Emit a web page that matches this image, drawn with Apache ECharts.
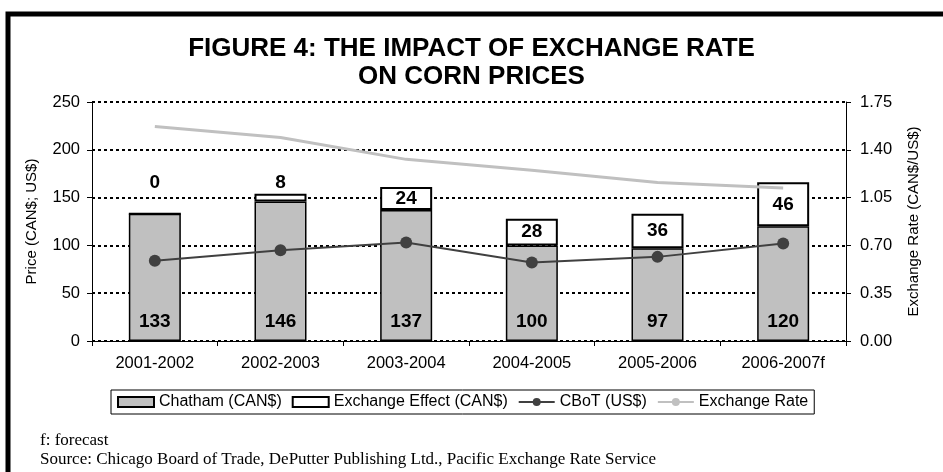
<!DOCTYPE html>
<html><head><meta charset="utf-8">
<script src="https://cdn.jsdelivr.net/npm/echarts@6/dist/echarts.min.js"></script>
<style>html,body{margin:0;padding:0;background:#fff}#c{width:943px;height:472px}</style>
</head><body><div id="c"></div>
<script>
const categories = ['2001-2002','2002-2003','2003-2004','2004-2005','2005-2006','2006-2007f'];
const chatham = [133,146,137,100,97,120];
const exchangeEffect = [0,8,24,28,36,46];
const cbot = [84,95,103,82,88,102];
const exchangeRate = [1.57,1.49,1.33,1.25,1.16,1.12];
const leftTicks = [0,50,100,150,200,250];
const rightTicks = [0,0.35,0.70,1.05,1.40,1.75];

const FONT = 'Liberation Sans, Arial, sans-serif';
const chart = echarts.init(document.getElementById('c'));
const effData = exchangeEffect.map(v => {
  const small = v < 15;
  return {
    value: v,
    label: small ? {position: 'top', distance: v === 0 ? 21 : 2} : {position: 'inside'}
  };
});
chart.setOption({
  animation: false,
  textStyle: {fontFamily: FONT},
  title: {
    text: 'FIGURE 4: THE IMPACT OF EXCHANGE RATE\nON CORN PRICES',
    left: 'center', top: 30,
    textStyle: {fontSize: 26, fontWeight: 'bold', color: '#000', lineHeight: 28, fontFamily: FONT}
  },
  graphic: [
    {type: 'rect', shape: {x: 8, y: 14, width: 1200, height: 1200}, style: {fill: 'none', stroke: '#000', lineWidth: 5}},
    {type: 'text', left: 40, top: 432, style: {text: 'f: forecast', font: '17px "Liberation Serif", serif', fill: '#000'}},
    {type: 'text', left: 40, top: 451, style: {text: 'Source: Chicago Board of Trade, DePutter Publishing Ltd., Pacific Exchange Rate Service', font: '17px "Liberation Serif", serif', fill: '#000'}}
  ],
  legend: {
    top: 390, left: 111,
    borderColor: '#000', borderWidth: 1, padding: [4, 6, 4, 6],
    itemGap: 10, itemWidth: 36, itemHeight: 10,
    textStyle: {fontSize: 16, color: '#000', fontFamily: FONT},
    data: [
      {name: 'Chatham (CAN$)', icon: 'rect'},
      {name: 'Exchange Effect (CAN$)', icon: 'rect'},
      {name: 'CBoT (US$)'},
      {name: 'Exchange Rate'}
    ]
  },
  grid: {left: 92, right: 97, top: 102, bottom: 131},
  xAxis: {
    type: 'category', data: categories,
    axisLine: {lineStyle: {color: '#000', width: 1}},
    axisTick: {show: true, lineStyle: {color: '#000'}, length: 5},
    axisLabel: {color: '#000', fontSize: 16.5, margin: 14, fontFamily: FONT}
  },
  yAxis: [
    {
      type: 'value', min: 0, max: 250, interval: 50,
      name: 'Price (CAN$; US$)', nameLocation: 'middle', nameGap: 53,
      nameTextStyle: {fontSize: 15, color: '#000', fontFamily: FONT},
      axisLine: {show: true, lineStyle: {color: '#000'}},
      axisTick: {show: true, lineStyle: {color: '#000'}, length: 5},
      axisLabel: {color: '#000', fontSize: 16.5, margin: 12, formatter: v => leftTicks.includes(v) ? String(v) : ''},
      splitLine: {show: true, lineStyle: {color: '#000', type: [3, 3], width: 2}}
    },
    {
      type: 'value', min: 0, max: 1.75, interval: 0.35, position: 'right',
      name: 'Exchange Rate (CAN$/US$)', nameLocation: 'middle', nameGap: 60, nameRotate: 90,
      nameTextStyle: {fontSize: 15, color: '#000', fontFamily: FONT},
      axisLine: {show: true, lineStyle: {color: '#000'}},
      axisTick: {show: true, lineStyle: {color: '#000'}, length: 5},
      axisLabel: {color: '#000', fontSize: 16.5, margin: 14, formatter: v => rightTicks.find(t => Math.abs(t - v) < 1e-6) !== undefined ? v.toFixed(2) : ''},
      splitLine: {show: false}
    }
  ],
  series: [
    {
      name: 'Chatham (CAN$)', type: 'bar', stack: 'p', barWidth: 52, data: chatham,
      itemStyle: {color: '#c0c0c0', borderColor: '#000', borderWidth: 1.5},
      label: {show: true, position: 'insideBottom', distance: 10, color: '#000', fontWeight: 'bold', fontSize: 19, fontFamily: FONT}
    },
    {
      name: 'Exchange Effect (CAN$)', type: 'bar', stack: 'p', barWidth: 52, data: effData,
      itemStyle: {color: '#fff', borderColor: '#000', borderWidth: 2},
      label: {show: true, color: '#000', fontWeight: 'bold', fontSize: 19, fontFamily: FONT}
    },
    {
      name: 'CBoT (US$)', type: 'line', data: cbot, z: 5,
      symbol: 'circle', symbolSize: 12,
      lineStyle: {color: '#404040', width: 2}, itemStyle: {color: '#404040'}
    },
    {
      name: 'Exchange Rate', type: 'line', yAxisIndex: 1, data: exchangeRate, z: 4,
      symbol: 'none', lineStyle: {color: '#c0c0c0', width: 3}, itemStyle: {color: '#c0c0c0'}
    }
  ]
});
</script></body></html>
